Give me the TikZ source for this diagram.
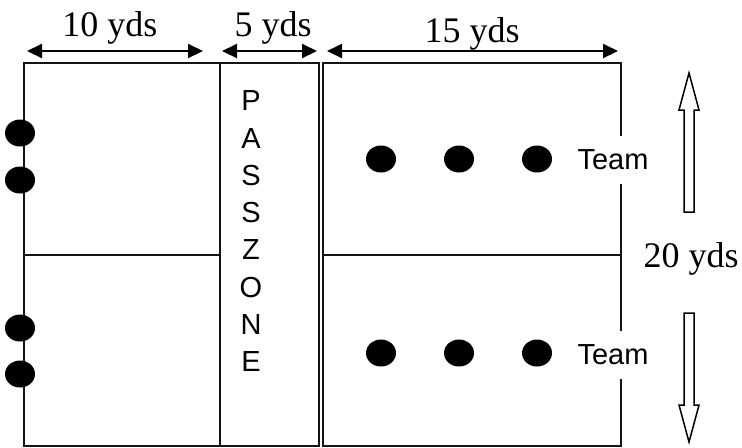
\documentclass[tikz,border=0pt]{standalone}
\usepackage{fontspec}
\setmainfont{Liberation Serif}
\setsansfont{Liberation Sans}
\usetikzlibrary{arrows.meta,shapes.geometric}
\definecolor{fieldline}{RGB}{20,20,20}

\tikzset{
  player/.style={ellipse,fill=black,minimum width=15pt,minimum height=13.5pt,inner sep=0pt},
  yardlabel/.style={font=\fontsize{18}{20}\selectfont,anchor=base,inner sep=0pt},
  sanslabel/.style={font=\sffamily\fontsize{14.5}{16}\selectfont,inner sep=0pt},
  dimarrow/.style={line width=1pt,{Triangle[length=7.5pt,width=7pt]}-{Triangle[length=7.5pt,width=7pt]}},
  border/.style={draw=fieldline,line width=1pt},
  blockarrow/.style={draw=black,line width=0.75pt,line join=miter}
}

\begin{document}
\begin{tikzpicture}[x=0.5pt,y=-0.5pt]
  \useasboundingbox (0,0) rectangle (742,447);
  % the three areas
  \draw[border] (24,63) rectangle (220,446);
  \draw[border] (220,63) rectangle (319,446);
  \draw[border] (323,63) rectangle (621,446);
  \coordinate (ml) at (24,255);  \coordinate (mr) at (220,255);
  \coordinate (nl) at (323,255); \coordinate (nr) at (621,255);
  \draw[border] (ml) -- (mr);
  \draw[border] (nl) -- (nr);
  % widths along the top
  \foreach \name/\xa/\xb in {ten/27/203, five/222/317, fifteen/327/618}
    {\coordinate (\name-a) at (\xa,51); \coordinate (\name-b) at (\xb,51);
     \draw[dimarrow] (\name-a) -- (\name-b);}
  \node[yardlabel] (lab-ten) at (110,36) {10 yds};
  \node[yardlabel] (lab-five) at (273,36) {5 yds};
  \node[yardlabel] (lab-fifteen) at (472,42) {15 yds};
  % pass zone letters
  \foreach \ch [count=\i] in {P,A,S,S,Z,O,N,E}
    \node[sanslabel] (pz\i) at (251,{101+37.2*(\i-1)}) {\ch};
  % players on the left line
  \foreach \y [count=\i] in {133,180,328,374}
    \node[player] (l\i) at (20,\y) {};
  % players on the right
  \foreach \x [count=\i] in {381,459,537}
    {\node[player] (ra\i) at (\x,159) {};
     \node[player] (rb\i) at (\x,353) {};}
  \node[sanslabel,fill=white,inner xsep=2pt,inner ysep=7pt] (team-a) at (613,160) {Team};
  \node[sanslabel,fill=white,inner xsep=2pt,inner ysep=7pt] (team-b) at (613,355) {Team};
  % length of the field
  \node[yardlabel] (lab-twenty) at (691,267) {20 yds};
  \draw[blockarrow] (684,212) -- (684,110) -- (679,110) -- (689,73) -- (699,110)
    -- (694,110) -- (694,212) -- cycle;
  \draw[blockarrow] (684,313) -- (684,405) -- (679,405) -- (689,442) -- (699,405)
    -- (694,405) -- (694,313) -- cycle;
\end{tikzpicture}
\end{document}
